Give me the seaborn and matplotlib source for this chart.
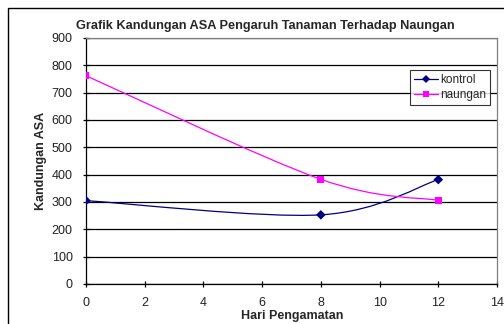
import numpy as np
import pandas as pd
import matplotlib
matplotlib.use("Agg")
import matplotlib.pyplot as plt
from matplotlib.path import Path
from matplotlib.patches import PathPatch, Rectangle
from matplotlib.lines import Line2D
import seaborn as sns

# Observation days and ASA content per treatment
hari = [0, 8, 12]
kontrol = [305, 253, 382]
naungan = [762, 383, 306]
series_names = ["kontrol", "naungan"]
x_ticks = [0, 2, 4, 6, 8, 10, 12, 14]
y_ticks = [0, 100, 200, 300, 400, 500, 600, 700, 800, 900]

colors = {"kontrol": "#000080", "naungan": "#FF00FF"}
markers = {"kontrol": "D", "naungan": "s"}

df = pd.DataFrame({
    "hari": hari * 2,
    "asa": kontrol + naungan,
    "seri": ["kontrol"] * len(hari) + ["naungan"] * len(hari),
})

sns.set_theme(style="white")
plt.rcParams["font.family"] = ["Liberation Sans", "DejaVu Sans"]

fig = plt.figure(figsize=(5.04, 3.24), dpi=100)
W, H = 504, 324
ax = fig.add_axes([86 / W, 1 - 284 / H, (497 - 86) / W, (284 - 38) / H])


def smooth_path(xs, ys):
    """Cubic Bezier path through the points (Catmull-Rom style smoothing)."""
    pts = np.column_stack([xs, ys]).astype(float)
    n = len(pts)
    verts = [pts[0]]
    codes = [Path.MOVETO]
    for i in range(n - 1):
        p0 = pts[i - 1] if i > 0 else pts[i]
        p1 = pts[i]
        p2 = pts[i + 1]
        p3 = pts[i + 2] if i + 2 < n else pts[i + 1]
        c1 = p1 + (p2 - p0) / 6.0
        c2 = p2 - (p3 - p1) / 6.0
        verts += [c1, c2, p2]
        codes += [Path.CURVE4] * 3
    return Path(verts, codes)


for name in series_names:
    sub = df[df["seri"] == name]
    patch = PathPatch(smooth_path(sub["hari"].values, sub["asa"].values),
                      fill=False, edgecolor=colors[name], linewidth=0.9,
                      zorder=3)
    ax.add_patch(patch)

sns.scatterplot(data=df, x="hari", y="asa", hue="seri", style="seri",
                palette=colors, markers=markers, s=24, linewidth=0,
                legend=False, ax=ax, zorder=4)

ax.set_xlim(0, 14)
ax.set_ylim(0, 900)
ax.set_xticks(x_ticks)
ax.set_yticks(y_ticks)
ax.set_xticklabels([str(v) for v in x_ticks])
ax.set_yticklabels([str(v) for v in y_ticks])
ax.grid(axis="y", color="black", linewidth=0.9)
ax.grid(axis="x", visible=False)
ax.set_axisbelow(True)

for side in ["left", "bottom"]:
    ax.spines[side].set_color("black")
    ax.spines[side].set_linewidth(0.9)
for side in ["top", "right"]:
    ax.spines[side].set_color("#808080")
    ax.spines[side].set_linewidth(0.9)

ax.tick_params(axis="both", which="major", direction="inout", length=5,
               width=0.9, color="black", labelsize=9, labelcolor="#222222")
ax.tick_params(axis="y", pad=7, left=True)
ax.tick_params(axis="x", pad=6.5, bottom=True)

ax.set_xlabel("")
ax.set_ylabel("")
fig.text(292 / W, 1 - 316 / H, "Hari Pengamatan", ha="center", va="center",
         fontsize=9, fontweight="bold")
fig.text(41 / W, 1 - 161 / H, "Kandungan ASA", ha="center", va="center",
         rotation=90, fontsize=9, fontweight="bold")
fig.text(265 / W, 1 - 26 / H,
         "Grafik Kandungan ASA Pengaruh Tanaman Terhadap Naungan",
         ha="center", va="center", fontsize=9.2, fontweight="bold")

handles = [Line2D([0], [0], color=colors[n], marker=markers[n],
                  markersize=4 if n == "kontrol" else 4.5, linewidth=0.9,
                  markeredgewidth=0)
           for n in series_names]
leg = ax.legend(handles, series_names, loc="lower left",
                bbox_to_anchor=((410 - 86) / (497 - 86), (284 - 105) / (284 - 38)),
                frameon=True, fancybox=False, fontsize=8.5, handlelength=2.1,
                handletextpad=0.15, borderpad=0.3, borderaxespad=0,
                labelspacing=0.3)
leg.get_frame().set_edgecolor("black")
leg.get_frame().set_linewidth(0.8)
leg.get_frame().set_facecolor("white")

# Chart-area frame
fig.patches.append(Rectangle((8 / W, -0.2), 1.2, 1.2 - 8 / H,
                             transform=fig.transFigure, fill=False,
                             edgecolor="black", linewidth=1.0))

fig.savefig("out.png", dpi=100)
